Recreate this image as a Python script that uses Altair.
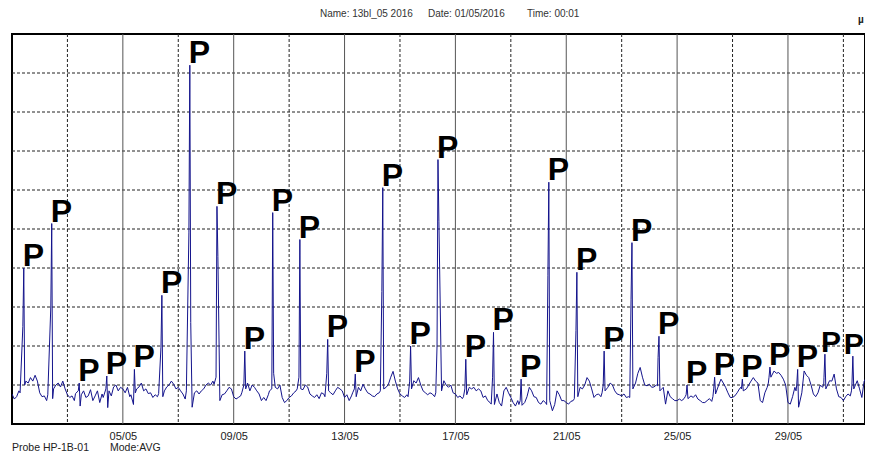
import altair as alt
import pandas as pd

# ---- data (units: grid divisions, 0..10) ----
base_hours = [0, 2, 4, 6, 7, 12, 14, 16, 18, 20, 22]

baseline = [
    [0.77, 0.64, 0.70, 0.85, 0.80, 1.10, 1.05, 1.19, 1.10, 1.25, 1.10],
    [0.80, 0.70, 0.72, 0.60, 0.75, 0.90, 1.00, 1.05, 0.95, 1.10, 0.90],
    [0.75, 0.68, 0.72, 0.60, 0.78, 0.75, 0.85, 0.68, 0.72, 0.88, 0.60],
    [0.72, 0.85, 0.55, 0.77, 0.68, 0.85, 0.72, 0.95, 1.00, 0.85, 0.94],
    [0.90, 0.80, 0.94, 0.70, 0.75, 0.90, 0.95, 1.05, 0.85, 0.90, 0.78],
    [0.80, 0.68, 0.75, 0.70, 0.78, 0.85, 0.95, 1.00, 1.10, 1.02, 0.90],
    [0.94, 0.85, 0.77, 0.64, 0.85, 0.43, 0.80, 0.85, 0.77, 0.85, 0.90],
    [1.00, 1.05, 1.00, 1.10, 1.02, 0.60, 0.75, 0.77, 0.85, 0.94, 0.90],
    [0.70, 0.64, 0.68, 0.72, 0.80, 1.05, 0.85, 1.00, 0.94, 0.85, 0.77],
    [0.60, 0.68, 0.60, 0.75, 0.85, 0.94, 0.90, 1.00, 0.68, 0.55, 0.60],
    [0.68, 0.72, 0.80, 0.85, 0.90, 0.88, 1.00, 0.95, 0.77, 0.72, 0.68],
    [0.75, 0.65, 0.80, 0.77, 0.70, 0.80, 0.75, 0.85, 0.94, 0.90, 0.85],
    [0.68, 0.75, 0.60, 0.72, 0.80, 0.94, 0.85, 1.02, 0.90, 0.80, 0.77],
    [0.72, 0.70, 0.77, 0.80, 0.85, 0.94, 1.02, 1.20, 1.35, 1.10, 0.90],
    [0.77, 0.72, 0.68, 0.75, 0.70, 1.11, 1.05, 1.19, 1.00, 0.85, 0.80],
    [0.75, 0.80, 0.77, 0.70, 0.80, 0.85, 1.11, 1.00, 0.94, 1.00, 0.80],
    [0.77, 0.68, 0.72, 0.65, 0.70, 0.94, 0.90, 0.94, 0.85, 0.90, 0.85],
    [0.68, 0.72, 0.60, 0.55, 0.51, 0.77, 0.55, 0.46, 0.85, 0.94, 0.80],
    [0.68, 0.55, 0.46, 0.60, 0.50, 0.55, 0.70, 0.94, 0.85, 0.70, 0.68],
    [0.55, 0.51, 0.60, 0.55, 0.50, 0.34, 0.50, 0.85, 0.75, 0.60, 0.60],
    [0.55, 0.51, 0.58, 0.60, 0.65, 0.94, 0.90, 1.00, 1.19, 1.10, 0.90],
    [0.68, 0.75, 0.77, 0.70, 0.80, 0.94, 1.05, 1.00, 0.85, 0.77, 0.75],
    [0.72, 0.77, 0.68, 0.70, 0.68, 1.05, 1.30, 1.45, 1.20, 1.00, 0.98],
    [1.02, 0.94, 0.95, 1.00, 0.98, 0.94, 0.51, 0.85, 0.70, 0.65, 0.60],
    [0.60, 0.64, 0.60, 0.65, 0.70, 0.72, 0.68, 0.75, 0.64, 0.60, 0.55],
    [0.55, 0.60, 0.65, 0.58, 0.70, 1.00, 1.15, 1.05, 0.94, 0.80, 0.68],
    [0.68, 0.72, 0.80, 0.90, 0.94, 0.90, 1.00, 1.10, 1.19, 1.10, 1.05],
    [0.60, 0.55, 0.80, 0.94, 1.05, 1.36, 1.30, 1.32, 1.25, 1.15, 1.00],
    [0.55, 0.51, 0.70, 0.94, 0.85, 0.80, 1.36, 1.25, 1.19, 1.00, 0.77],
    [0.70, 0.80, 1.00, 0.94, 1.02, 1.11, 1.10, 1.28, 0.90, 0.70, 0.68],
    [0.60, 0.70, 0.77, 0.72, 0.85, 1.11, 0.90, 0.68, 1.10, 1.19, 1.02],
]
# hour of day at which each daily peak occurs (read from spike positions)
peak_hour = [10.2, 10.4, 10.2, 10.1, 10.0, 9.8, 10.0, 9.5, 9.6, 9.8, 9.3, 9.4, 9.3, 9.1, 9.2, 8.9,
             9.0, 9.0, 8.9, 8.9, 9.2, 8.8, 8.9, 8.3, 8.6, 8.5, 8.5, 8.4, 8.4, 8.0, 8.2]
pre_peak = [2.5, 3.0, 0.85, 0.9, 0.5, 1.97, 4.9, 1.2, 1.0, 0.9, 1.2, 1.3, 0.9, 3.4, 1.1, 2.0,
            0.9, 1.2, 0.6, 3.8, 2.4, 1.0, 3.2, 1.7, 0.75, 0.9, 0.9, 1.2, 1.0, 1.2, 1.0]
peak = [4.0, 5.14, 1.05, 1.23, 1.4, 3.3, 9.2, 5.58, 1.87, 5.42, 4.73, 2.17, 1.28, 6.06, 2.0, 6.78,
        1.66, 2.35, 1.15, 6.2, 3.89, 1.87, 4.65, 2.25, 1.0, 1.2, 1.15, 1.46, 1.4, 1.79, 1.74]
post_peak = [1.0, 0.65, 0.46, 0.42, 0.8, 0.7, 2.6, 4.3, 0.9, 1.3, 0.9, 0.85, 0.7, 0.9, 0.9, 5.2,
             0.75, 0.5, 0.48, 0.6, 0.7, 0.85, 0.9, 0.85, 0.65, 0.77, 0.85, 1.2, 0.43, 0.9, 0.9]

tick_days = [4, 8, 12, 16, 20, 24, 28]          # labelled days: 05/05 ... 29/05
minor_days = [2, 6, 10, 14, 18, 22, 26, 30]     # dashed verticals
grid_levels = [1, 2, 3, 4, 5, 6, 7, 8, 9]
x_domain = [0, 30.78]

header_parts = ["Name: 13bl_05 2016", "Date: 01/05/2016", "Time: 00:01"]
header_x = [308, 416, 515]
footer_probe = "Probe HP-1B-01"
footer_mode = "Mode:AVG"
unit_mark = "µ"

# ---- build tables ----
rows = []
for d in range(31):
    for h, v in zip(base_hours, baseline[d]):
        rows.append({"t": d + h / 24.0, "v": v})
    ph = peak_hour[d]
    for h, v in zip([ph - 0.8, ph, ph + 0.8], [pre_peak[d], peak[d], post_peak[d]]):
        rows.append({"t": d + h / 24.0, "v": v})
series = pd.DataFrame(rows).sort_values("t")
peaks_df = pd.DataFrame({"t": [d + peak_hour[d] / 24.0 for d in range(31)], "v": peak})
peaks_main = peaks_df.iloc[:-2]
peaks_30 = peaks_df.iloc[-2:-1]
peaks_31 = peaks_df.iloc[-1:]

W, H = 853, 390
xs = alt.Scale(domain=x_domain, nice=False, zero=False)
ys = alt.Scale(domain=[0, 10], nice=False, zero=False)

hgrid = alt.Chart(pd.DataFrame({"v": grid_levels})).mark_rule(
    color="#222", strokeWidth=1, strokeDash=[3, 2]
).encode(y=alt.Y("v:Q", scale=ys, axis=None))

vminor = alt.Chart(pd.DataFrame({"t": minor_days})).mark_rule(
    color="#222", strokeWidth=1, strokeDash=[3, 2]
).encode(x=alt.X("t:Q", scale=xs))

vmajor = alt.Chart(pd.DataFrame({"t": tick_days})).mark_rule(
    color="#555", strokeWidth=1
).encode(x=alt.X("t:Q", scale=xs))

line = alt.Chart(series).mark_line(color="#14148c", strokeWidth=1, interpolate="linear", clip=True).encode(
    x=alt.X("t:Q", scale=xs,
            axis=alt.Axis(values=tick_days, labelExpr="(datum.value+1 < 10 ? '0' : '') + (datum.value+1) + '/05'",
                          grid=False, ticks=False, domain=False, title=None,
                          labelFont="Liberation Sans", labelFontSize=11, labelColor="#222",
                          labelPadding=6)),
    y=alt.Y("v:Q", scale=ys, axis=None),
    order="t:Q",
)

ptext = dict(text="P", font="Liberation Sans", fontWeight="bold", color="black",
             align="left", baseline="alphabetic", dy=-2)
plabels = alt.Chart(peaks_main).mark_text(dx=-1, fontSize=32, **ptext).encode(
    x=alt.X("t:Q", scale=xs), y=alt.Y("v:Q", scale=ys))
plabel_30 = alt.Chart(peaks_30).mark_text(dx=-4, fontSize=30, **ptext).encode(
    x=alt.X("t:Q", scale=xs), y=alt.Y("v:Q", scale=ys))
plabel_31 = alt.Chart(peaks_31).mark_text(dx=-9, fontSize=30, **ptext).encode(
    x=alt.X("t:Q", scale=xs), y=alt.Y("v:Q", scale=ys))

head = alt.Chart(pd.DataFrame({"s": header_parts, "x": header_x})).mark_text(
    font="Liberation Sans", fontSize=10, color="#333", align="left", baseline="alphabetic"
).encode(text="s:N", x=alt.X("x:Q", scale=None), y=alt.value(-17))

probe = alt.Chart(pd.DataFrame({"s": [footer_probe]})).mark_text(
    font="Liberation Sans", fontSize=10.5, color="#222", align="left", baseline="middle"
).encode(text="s:N", x=alt.value(0), y=alt.value(H + 24))

mode = alt.Chart(pd.DataFrame({"s": [footer_mode]})).mark_text(
    font="Liberation Sans", fontSize=10.5, color="#222", align="left", baseline="middle"
).encode(text="s:N", x=alt.value(98), y=alt.value(H + 24))

unit = alt.Chart(pd.DataFrame({"s": [unit_mark]})).mark_text(
    font="Liberation Sans", fontSize=10, fontWeight="bold", color="#222", align="left", baseline="middle"
).encode(text="s:N", x=alt.value(846), y=alt.value(-14))

chart = alt.layer(hgrid, vminor, vmajor, line, plabels, plabel_30, plabel_31,
                  head, probe, mode, unit).properties(
    width=W, height=H,
    autosize=alt.AutoSizeParams(type="none"),
    padding={"left": 4, "top": 26, "right": 0, "bottom": 30},
    background="white",
).configure_view(stroke="black", strokeWidth=2)

chart.save("out.html", embed_options={"renderer": "svg", "actions": False})
